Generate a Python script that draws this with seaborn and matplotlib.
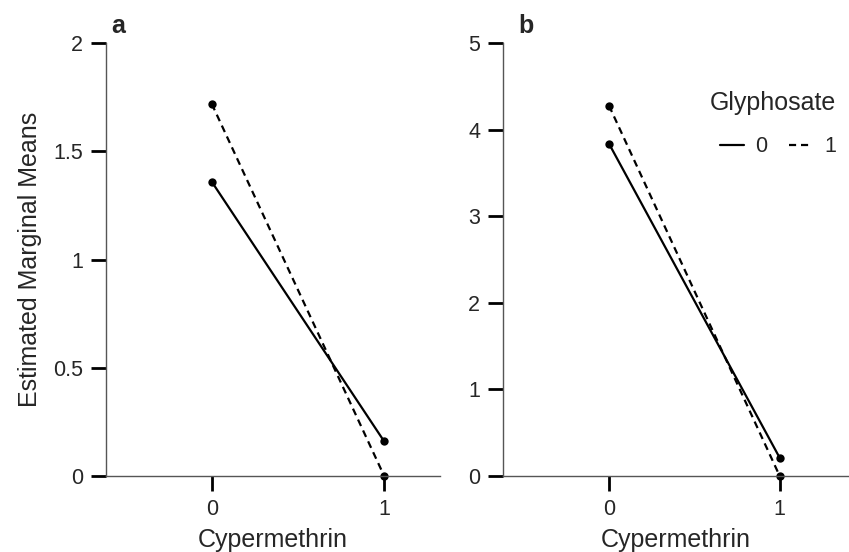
import seaborn as sns
import matplotlib.pyplot as plt
import pandas as pd
from matplotlib.lines import Line2D

# Estimated marginal means
cypermethrin = [0, 1]
glyphosate_levels = [0, 1]
panel_a_g0 = [1.36, 0.16]
panel_a_g1 = [1.72, 0.00]
panel_b_g0 = [3.84, 0.21]
panel_b_g1 = [4.28, 0.00]
panel_names = ["a", "b"]
y_limits = [(0, 2), (0, 5)]
y_ticks = [[0, 0.5, 1, 1.5, 2], [0, 1, 2, 3, 4, 5]]
y_ticklabels = [["0", "0.5", "1", "1.5", "2"], ["0", "1", "2", "3", "4", "5"]]


def make_df(g0, g1):
    rows = []
    for g, vals in zip(glyphosate_levels, [g0, g1]):
        for c, v in zip(cypermethrin, vals):
            rows.append({"Cypermethrin": c, "Glyphosate": g, "EMM": v})
    return pd.DataFrame(rows)


sns.set_style("ticks")
plt.rcParams["font.family"] = ["Liberation Sans", "DejaVu Sans"]

fig = plt.figure(figsize=(8.49, 5.52), dpi=100)
ax_a = fig.add_axes([0.1245, 0.1377, 0.394, 0.784])
ax_b = fig.add_axes([0.5928, 0.1377, 0.4072, 0.784])

dfs = [make_df(panel_a_g0, panel_a_g1), make_df(panel_b_g0, panel_b_g1)]
xlims = [(-0.615, 1.325), (-0.619, 1.406)]
name_offsets = [4, 11]  # points from the y axis

for ax, df, name, ylim, yt, ytl, xl, off in zip([ax_a, ax_b], dfs, panel_names,
                                                y_limits, y_ticks, y_ticklabels,
                                                xlims, name_offsets):
    sns.lineplot(
        data=df, x="Cypermethrin", y="EMM", style="Glyphosate",
        dashes={0: "", 1: (3.2, 2.2)}, markers={0: "o", 1: "o"},
        color="black", linewidth=1.6, markersize=6, markeredgewidth=0,
        legend=False, ax=ax, clip_on=False
    )
    ax.set_xlim(*xl)
    ax.set_ylim(*ylim)
    ax.set_xticks(cypermethrin)
    ax.set_xticklabels(["0", "1"])
    ax.set_yticks(yt)
    ax.set_yticklabels(ytl)
    ax.tick_params(axis="both", length=10.5, width=2, color="black",
                   labelsize=15.5, pad=6)
    sns.despine(ax=ax)
    for s in ["left", "bottom"]:
        ax.spines[s].set_color("#555555")
        ax.spines[s].set_linewidth(1.0)
    ax.set_xlabel("Cypermethrin", fontsize=18, labelpad=6)
    ax.set_ylabel("")
    ax.annotate(name, xy=(0, 1), xycoords="axes fraction",
                xytext=(off, 4), textcoords="offset points", fontsize=18,
                fontweight="bold", ha="left", va="bottom")

ax_a.set_ylabel("Estimated Marginal Means", fontsize=18, labelpad=8)

handles = [
    Line2D([], [], color="black", linewidth=1.6, linestyle="-"),
    Line2D([], [], color="black", linewidth=1.6, linestyle=(0, (3.2, 2.2))),
]
leg = ax_b.legend(handles, ["0", "1"], title="Glyphosate", ncol=2,
                  frameon=False, loc="upper right",
                  bbox_to_anchor=(1.0, 0.92), fontsize=15.5,
                  title_fontsize=18, handlelength=1.15, handletextpad=0.5,
                  columnspacing=1.0, labelspacing=1.0, borderaxespad=0.2,
                  alignment="right")

fig.savefig("out.png", dpi=100)
